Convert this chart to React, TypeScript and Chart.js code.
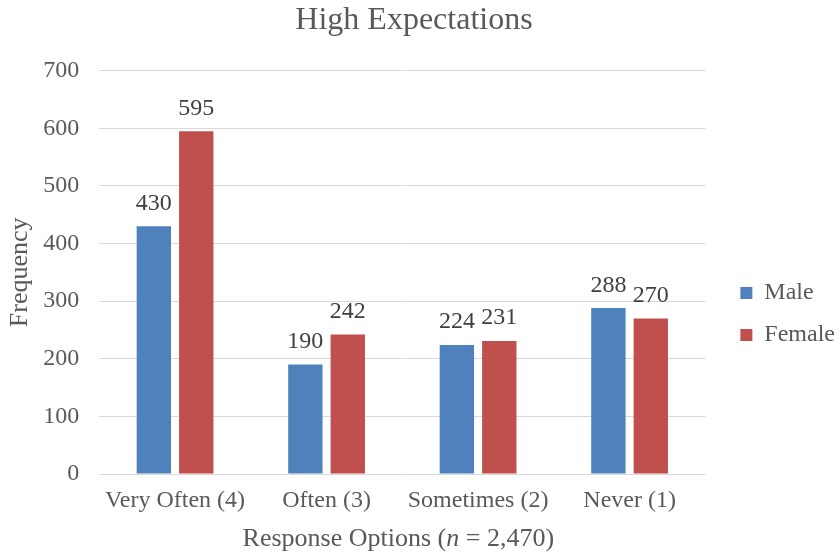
import { useEffect, useRef } from 'react';
import { Chart, registerables } from 'chart.js';

Chart.register(...registerables);

// Survey responses by gender
const categories = ['Very Often (4)', 'Often (3)', 'Sometimes (2)', 'Never (1)'];
const maleCounts = [430, 190, 224, 288];
const femaleCounts = [595, 242, 231, 270];
const seriesNames = ['Male', 'Female'];
const seriesColors = ['#4F81BD', '#C0504D'];

const chartTitle = 'High Expectations';
const yAxisTitle = 'Frequency';
const xAxisTitleParts = [
  { text: 'Response Options (', italic: false },
  { text: 'n', italic: true },
  { text: ' = 2,470)', italic: false },
];
const yMin = 0;
const yMax = 700;
const yStep = 100;

const SERIF = "'Liberation Serif', 'Times New Roman', serif";
const TEXT_GREY = '#595959';
const LABEL_GREY = '#404040';
const GRID_GREY = '#D9D9D9';

// Writes each bar's value just above its top edge
const barValueLabels = {
  id: 'barValueLabels',
  afterDatasetsDraw(chart: any) {
    const { ctx } = chart;
    ctx.save();
    ctx.font = `24px ${SERIF}`;
    ctx.fillStyle = LABEL_GREY;
    ctx.textAlign = 'center';
    ctx.textBaseline = 'alphabetic';
    chart.data.datasets.forEach((ds: any, i: number) => {
      const meta = chart.getDatasetMeta(i);
      meta.data.forEach((bar: any, j: number) => {
        ctx.fillText(String(ds.data[j]), bar.x, bar.y - 16.5);
      });
    });
    ctx.restore();
  },
};

// Category-axis title with an italic sample-size symbol
const xAxisTitle = {
  id: 'xAxisTitle',
  afterDraw(chart: any) {
    const { ctx, chartArea } = chart;
    const xScale = chart.scales.x;
    const size = 26;
    const fontFor = (italic: boolean) => `${italic ? 'italic ' : ''}${size}px ${SERIF}`;
    ctx.save();
    const widths = xAxisTitleParts.map((p) => {
      ctx.font = fontFor(p.italic);
      return ctx.measureText(p.text).width;
    });
    const total = widths.reduce((a, b) => a + b, 0);
    let x = (chartArea.left + chartArea.right) / 2 - 4 - total / 2;
    const y = xScale.bottom - size * 0.6 - 1;
    ctx.fillStyle = TEXT_GREY;
    ctx.textAlign = 'left';
    ctx.textBaseline = 'middle';
    xAxisTitleParts.forEach((p, i) => {
      ctx.font = fontFor(p.italic);
      ctx.fillText(p.text, x, y);
      x += widths[i];
    });
    ctx.restore();
  },
};

// Moves the legend block beside the plot, a little lower than centre
const legendPlacement = {
  id: 'legendPlacement',
  afterLayout(chart: any) {
    const lg = chart.legend;
    if (!lg) return;
    lg.left += 17;
    lg.right += 17;
    lg.top += 36;
    lg.bottom += 36;
  },
};

export default function App() {
  const canvasRef = useRef<HTMLCanvasElement | null>(null);

  useEffect(() => {
    const canvas = canvasRef.current;
    if (!canvas) return;
    const chart = new Chart(canvas, {
      type: 'bar',
      data: {
        labels: categories,
        datasets: [
          {
            label: seriesNames[0],
            data: maleCounts,
            backgroundColor: seriesColors[0],
            categoryPercentage: 0.56,
            barPercentage: 0.81,
          },
          {
            label: seriesNames[1],
            data: femaleCounts,
            backgroundColor: seriesColors[1],
            categoryPercentage: 0.56,
            barPercentage: 0.81,
          },
        ],
      },
      options: {
        responsive: false,
        animation: false,
        layout: { padding: { left: 0, right: 7, top: 0, bottom: 0 } },
        plugins: {
          title: {
            display: true,
            text: chartTitle,
            color: TEXT_GREY,
            font: { family: SERIF, size: 32, weight: 'normal' },
            padding: { top: 1.7, bottom: 30.6 },
          },
          legend: {
            position: 'right',
            labels: {
              color: TEXT_GREY,
              font: { family: SERIF, size: 24 },
              boxWidth: 12,
              boxHeight: 12,
              padding: 18,
            },
          },
          tooltip: { enabled: false },
        },
        scales: {
          x: {
            grid: { display: false, drawTicks: false },
            border: { display: false },
            ticks: {
              color: TEXT_GREY,
              font: { family: SERIF, size: 24 },
              padding: 12.6,
              maxRotation: 0,
              autoSkip: false,
            },
            afterFit: (scale: any) => {
              scale.height = 82;
            },
          },
          y: {
            min: yMin,
            max: yMax,
            grid: { color: GRID_GREY, lineWidth: 1, drawTicks: false },
            border: { display: false },
            ticks: {
              stepSize: yStep,
              color: TEXT_GREY,
              font: { family: SERIF, size: 24 },
              padding: 20,
            },
            title: {
              display: true,
              text: yAxisTitle,
              color: TEXT_GREY,
              font: { family: SERIF, size: 26 },
              padding: { top: 5, bottom: 0 },
            },
            afterFit: (scale: any) => {
              scale.width = 99.3;
            },
          },
        },
      },
      plugins: [barValueLabels, xAxisTitle, legendPlacement],
    });
    return () => chart.destroy();
  }, []);

  return (
    <div style={{ position: 'absolute', left: 0, top: 0, width: 835, height: 556, background: '#fff' }}>
      <canvas ref={canvasRef} width={835} height={556} />
    </div>
  );
}
